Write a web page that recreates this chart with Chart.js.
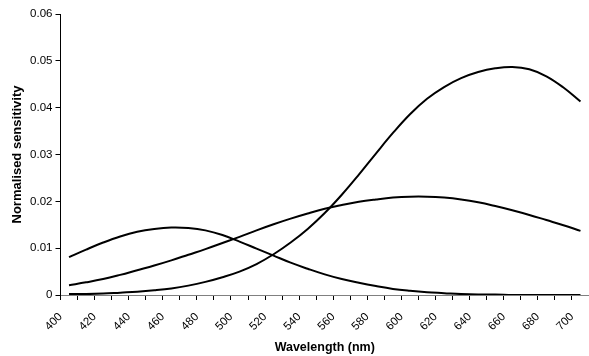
<html>
<head>
  <title>Cone sensitivities</title>
  <style type="text/css">
    body { margin: 0; background: #fff; }
    #wrap { width: 589px; height: 356px; }
  </style>
</head>
<body>
  <div id="wrap"><canvas id="chart"></canvas></div>
  <script src="https://cdn.jsdelivr.net/npm/chart.js@4/dist/chart.umd.min.js"></script>
  <script>
    const wavelengths = [400, 410, 420, 430, 440, 450, 460, 470, 480, 490, 500, 510, 520, 530, 540, 550,
                         560, 570, 580, 590, 600, 610, 620, 630, 640, 650, 660, 670, 680, 690, 700];

    const sCone = [0.0081, 0.0097, 0.0112, 0.0125, 0.0135, 0.0141, 0.0144, 0.0143, 0.0138, 0.0128, 0.0114,
                   0.0099, 0.0084, 0.0069, 0.0056, 0.0044, 0.0034, 0.0026, 0.0019, 0.0013, 0.0009, 0.0006,
                   0.0004, 0.0002, 0.0001, 0.0001, 0, 0, 0, 0, 0];
    const mCone = [0.0021, 0.0027, 0.0034, 0.0043, 0.0053, 0.0063, 0.0074, 0.0086, 0.0098, 0.0111, 0.0124,
                   0.0138, 0.0151, 0.0163, 0.0174, 0.0184, 0.0192, 0.0199, 0.0204, 0.0208, 0.0210, 0.0210,
                   0.0208, 0.0204, 0.0198, 0.0190, 0.0181, 0.0171, 0.0160, 0.0149, 0.0137];
    const lCone = [0.0002, 0.0002, 0.0003, 0.0005, 0.0007, 0.0010, 0.0014, 0.0020, 0.0028, 0.0038, 0.0050,
                   0.0066, 0.0087, 0.0112, 0.0141, 0.0175, 0.0214, 0.0257, 0.0302, 0.0346, 0.0386, 0.0419,
                   0.0444, 0.0463, 0.0476, 0.0484, 0.0487, 0.0482, 0.0467, 0.0443, 0.0413];

    const yTicks = [0, 0.01, 0.02, 0.03, 0.04, 0.05, 0.06];

    Chart.defaults.font.family = "'Liberation Sans', Arial, sans-serif";
    Chart.defaults.color = '#000';

    function line(data) {
      return {
        data: data,
        borderColor: '#000',
        borderWidth: 2,
        pointRadius: 0,
        tension: 0.4,
        fill: false
      };
    }

    new Chart(document.getElementById('chart'), {
      type: 'line',
      data: {
        labels: wavelengths,
        datasets: [line(sCone), line(mCone), line(lCone)]
      },
      options: {
        responsive: true,
        maintainAspectRatio: false,
        animation: false,
        layout: { padding: { top: 14, right: -1.4, left: 0, bottom: 0 } },
        plugins: { legend: { display: false }, tooltip: { enabled: false } },
        scales: {
          x: {
            type: 'category',
            offset: true,
            grid: { offset: true, drawOnChartArea: false, color: '#000', tickLength: 5 },
            border: { color: '#808080', width: 1 },
            ticks: {
              autoSkip: false,
              minRotation: 45,
              maxRotation: 45,
              labelOffset: -8.5,
              padding: 10,
              font: { size: 11.5 },
              callback: (v, i) => i % 2 === 0 ? String(wavelengths[i]) : ''
            },
            title: {
              display: true,
              text: 'Wavelength (nm)',
              font: { size: 12.5, weight: 'bold' },
              padding: { top: 0, bottom: 1 }
            },
            afterFit: (s) => { s.height = 61; s.paddingLeft = 0; s.paddingRight = -1.4; }
          },
          y: {
            min: 0,
            max: 0.06,
            grid: { drawOnChartArea: false, color: '#000', tickLength: 5 },
            border: { color: '#000', width: 1 },
            afterBuildTicks: (s) => { s.ticks = yTicks.map(v => ({ value: v })); },
            ticks: {
              font: { size: 11.5 },
              padding: 3,
              callback: (v) => v === 0 ? '0' : v.toFixed(2)
            },
            title: {
              display: true,
              text: 'Normalised sensitivity',
              font: { size: 13, weight: 'bold' },
              padding: { top: 10, bottom: 0 }
            },
            afterFit: (s) => { s.width = 60.5; }
          }
        }
      }
    });
  </script>
</body>
</html>
